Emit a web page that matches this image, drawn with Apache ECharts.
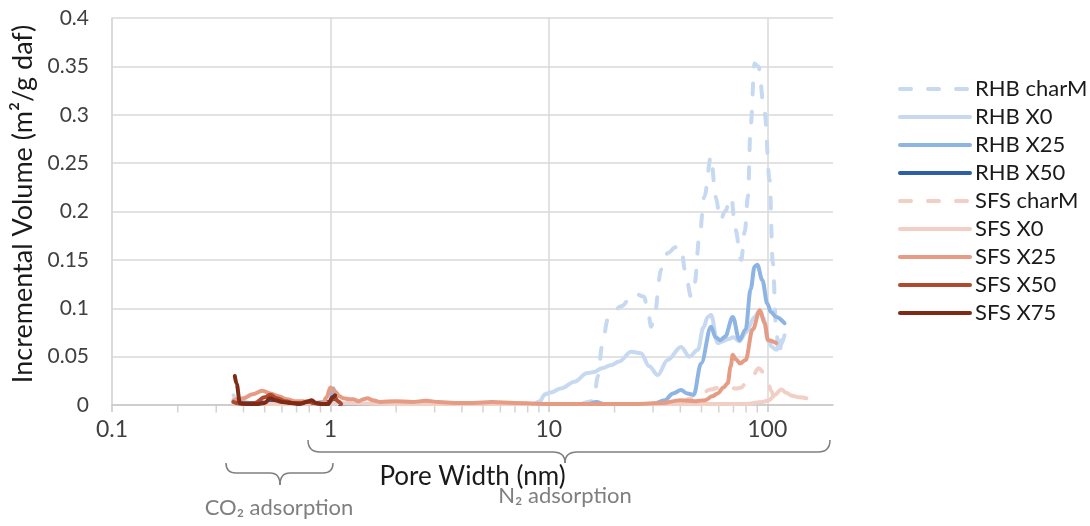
<!DOCTYPE html>
<html>
<head>
<meta charset="utf-8">
<script src="https://cdn.jsdelivr.net/npm/echarts@6.0.0/dist/echarts.min.js"></script>
<style>
  html, body { margin: 0; padding: 0; background: #ffffff; }
  #chart { width: 1090px; height: 526px; }
</style>
</head>
<body>
<div id="chart"></div>
<script>
// pore size distribution, RHB vs SFS chars
var FONT = 'Lato';

var seriesNames = ['RHB charM', 'RHB X0', 'RHB X25', 'RHB X50', 'SFS charM', 'SFS X0', 'SFS X25', 'SFS X50', 'SFS X75'];
var xTickLabels = [0.1, 1, 10, 100];
var minorTickX = [0.2, 0.3, 0.4, 0.5, 0.6, 0.7, 0.8, 0.9, 2, 3, 4, 5, 6, 7, 8, 9, 20, 30, 40, 50, 60, 70, 80, 90];

// pore width (nm) / incremental volume
var rhbCharMx = [14, 16, 16.8, 17.5, 18.6, 20, 21.4, 24.6, 27.3, 28.5, 29.4, 30.3, 32.7, 35, 38, 40.3, 42, 44.8, 46.5, 48.9, 51.5, 55.3, 58, 61.1, 64, 68.4, 71.5, 76, 79, 81.5, 84, 87.5, 91, 97.3, 102.5, 106, 110, 113, 116];
var rhbCharMy = [0.001, 0.004, 0.03, 0.06, 0.088, 0.098, 0.102, 0.1155, 0.112, 0.095, 0.081, 0.09, 0.14, 0.157, 0.163, 0.164, 0.14, 0.112, 0.126, 0.174, 0.215, 0.257, 0.215, 0.191, 0.2, 0.215, 0.181, 0.15, 0.18, 0.215, 0.29, 0.353, 0.35, 0.302, 0.233, 0.147, 0.078, 0.05, 0.067];

var rhbX0x = [0.36, 0.38, 0.42, 0.5, 0.6, 0.8, 1.0, 1.5, 2, 3, 5, 7, 8.5, 9.1, 9.6, 10.2, 11.35, 13.1, 15, 16.1, 17.5, 19.2, 21, 23.8, 26.4, 28.8, 31.5, 35, 40.3, 44, 48.1, 51, 53.4, 55.3, 59.3, 63, 66, 70, 74.6, 80, 87.5, 92, 96, 100.6, 105, 110, 115, 120];
var rhbX0y = [0.01, 0.003, 0.001, 0.001, 0.001, 0.001, 0.001, 0.001, 0.001, 0.001, 0.001, 0.001, 0.001, 0.004, 0.011, 0.013, 0.017, 0.024, 0.033, 0.034, 0.038, 0.041, 0.045, 0.055, 0.0534, 0.04, 0.031, 0.0465, 0.06, 0.05, 0.057, 0.08, 0.091, 0.093, 0.064, 0.066, 0.068, 0.07, 0.066, 0.075, 0.091, 0.097, 0.09, 0.067, 0.06, 0.057, 0.062, 0.072];

var rhbX25x = [0.36, 0.4, 0.5, 0.6, 0.7, 0.8, 0.9, 1.0, 1.03, 1.07, 1.15, 1.5, 2, 3, 5, 8, 12, 15, 16.5, 18, 25, 30, 34, 37, 40.3, 43, 46, 49.8, 55.3, 58, 61, 64.1, 69.5, 74.6, 79.6, 84, 87.5, 90, 95, 100, 104, 110, 120];
var rhbX25y = [0.004, 0.002, 0.002, 0.001, 0.001, 0.001, 0.002, 0.004, 0.017, 0.004, 0.001, 0.001, 0.001, 0.001, 0.001, 0.001, 0.001, 0.001, 0.003, 0.001, 0.001, 0.001, 0.005, 0.012, 0.0155, 0.012, 0.0103, 0.043, 0.081, 0.07, 0.067, 0.0706, 0.091, 0.067, 0.078, 0.12, 0.143, 0.145, 0.129, 0.105, 0.096, 0.091, 0.0845];

var rhbX50x = [0.36, 0.45, 0.55, 0.7, 0.85, 1.0, 1.05, 1.1];
var rhbX50y = [0.003, 0.002, 0.003, 0.002, 0.002, 0.003, 0.006, 0.001];

var sfsCharMx = [30, 40, 45, 49.8, 55, 59.3, 66, 72, 76, 80, 85, 91.5, 96, 100, 104, 108, 112];
var sfsCharMy = [0.001, 0.003, 0.007, 0.012, 0.016, 0.0176, 0.018, 0.017, 0.018, 0.023, 0.029, 0.038, 0.034, 0.027, 0.015, 0.006, 0.002];

var sfsX0x = [0.36, 0.5, 0.7, 1.0, 2, 5, 10, 20, 40, 60, 80, 95, 102, 108, 116, 122, 130, 140, 151];
var sfsX0y = [0.002, 0.001, 0.001, 0.002, 0.001, 0.001, 0.001, 0.001, 0.001, 0.001, 0.001, 0.003, 0.005, 0.0103, 0.016, 0.0127, 0.0095, 0.008, 0.007];

var sfsX25x = [0.36, 0.4, 0.44, 0.488, 0.53, 0.58, 0.63, 0.69, 0.75, 0.81, 0.87, 0.92, 0.96, 1.0, 1.05, 1.1, 1.15, 1.22, 1.27, 1.35, 1.42, 1.48, 1.56, 1.7, 1.98, 2.37, 2.74, 3.13, 3.7, 4.5, 5.5, 7, 10, 15, 25, 33, 40, 47, 52, 56, 59.3, 63, 65.9, 68, 69.5, 72, 75, 79.6, 85.7, 92.6, 97.3, 101, 110];
var sfsX25y = [0.005, 0.007, 0.011, 0.0148, 0.012, 0.009, 0.006, 0.004, 0.004, 0.003, 0.002, 0.001, 0.008, 0.018, 0.014, 0.009, 0.007, 0.006, 0.006, 0.004, 0.006, 0.007, 0.005, 0.003, 0.004, 0.003, 0.0045, 0.003, 0.002, 0.002, 0.003, 0.002, 0.001, 0.001, 0.001, 0.002, 0.005, 0.004, 0.005, 0.009, 0.012, 0.018, 0.0224, 0.04, 0.052, 0.047, 0.043, 0.0465, 0.078, 0.098, 0.0845, 0.067, 0.064];

var sfsX50x = [0.36, 0.4, 0.45, 0.5, 0.53, 0.57, 0.62, 0.68, 0.74, 0.79, 0.84, 0.9, 0.96, 1.0, 1.04, 1.08, 1.12];
var sfsX50y = [0.003, 0.001, 0.002, 0.008, 0.0105, 0.007, 0.004, 0.002, 0.002, 0.004, 0.002, 0.001, 0.001, 0.004, 0.009, 0.004, 0.001];

var sfsX75x = [0.365, 0.372, 0.385, 0.42, 0.46, 0.5, 0.53, 0.56, 0.6, 0.66, 0.72, 0.78, 0.82, 0.86, 0.92, 0.98, 1.02, 1.05];
var sfsX75y = [0.03, 0.022, 0.002, 0.001, 0.001, 0.002, 0.007, 0.005, 0.003, 0.002, 0.001, 0.003, 0.005, 0.002, 0.001, 0.001, 0.008, 0.01];

var colors = ['#c6d9f0', '#c6d9f0', '#8db4e2', '#2e5ea6', '#f2cfc4', '#f2cfc4', '#e69c84', '#b04a2e', '#7f2a16'];
var dashed = [true, false, false, false, true, false, false, false, false];

var allX = [rhbCharMx, rhbX0x, rhbX25x, rhbX50x, sfsCharMx, sfsX0x, sfsX25x, sfsX50x, sfsX75x];
var allY = [rhbCharMy, rhbX0y, rhbX25y, rhbX50y, sfsCharMy, sfsX0y, sfsX25y, sfsX50y, sfsX75y];

function pairs(xs, ys) {
  var out = [];
  for (var i = 0; i < xs.length; i++) {
    out.push([xs[i], ys[i]]);
  }
  return out;
}

// curly brace (opening downwards) built from lines + quadratic curves
function brace(x1, x2, xm, yTop, yMid, yTip) {
  var st = { stroke: '#7f7f7f', lineWidth: 1.5, fill: null };
  var r = yMid - yTop;
  return [
    { type: 'bezierCurve', shape: { x1: x1, y1: yTop, x2: x1 + r, y2: yMid, cpx1: x1, cpy1: yMid }, style: st },
    { type: 'line', shape: { x1: x1 + r, y1: yMid, x2: xm - r, y2: yMid }, style: st },
    { type: 'bezierCurve', shape: { x1: xm - r, y1: yMid, x2: xm, y2: yTip, cpx1: xm, cpy1: yMid }, style: st },
    { type: 'bezierCurve', shape: { x1: xm, y1: yTip, x2: xm + r, y2: yMid, cpx1: xm, cpy1: yMid }, style: st },
    { type: 'line', shape: { x1: xm + r, y1: yMid, x2: x2 - r, y2: yMid }, style: st },
    { type: 'bezierCurve', shape: { x1: x2 - r, y1: yMid, x2: x2, y2: yTop, cpx1: x2, cpy1: yMid }, style: st }
  ];
}

var chart = echarts.init(document.getElementById('chart'), null, { renderer: 'canvas' });

var series = [];
for (var i = 0; i < seriesNames.length; i++) {
  series.push({
    name: seriesNames[i],
    type: 'line',
    data: pairs(allX[i], allY[i]),
    smooth: 0.35,
    smoothMonotone: 'x',
    showSymbol: false,
    symbol: 'none',
    color: colors[i],
    lineStyle: {
      color: colors[i],
      width: 4,
      type: dashed[i] ? [11, 17] : 'solid',
      cap: 'round',
      join: 'round'
    },
    animation: false
  });
}

// minor ticks of the log axis (2..9 in every decade)
series.push({
  name: 'minor',
  type: 'scatter',
  data: minorTickX.map(function (v) { return [v, 0]; }),
  symbol: 'rect',
  symbolSize: [1.5, 7],
  symbolOffset: [0, 4],
  itemStyle: { color: '#c8c8c8' },
  silent: true,
  clip: false,
  z: 1,
  animation: false
});

var graphics = brace(308, 830, 565, 440, 452, 463)
  .concat(brace(226, 333, 280, 463, 473, 485))
  .concat([
    {
      type: 'text',
      x: 279,
      y: 508,
      style: { text: 'CO₂ adsorption', fontFamily: FONT, fontSize: 22, fill: '#7f7f7f', align: 'center', verticalAlign: 'middle' }
    },
    {
      type: 'text',
      x: 565,
      y: 496,
      style: { text: 'N₂ adsorption', fontFamily: FONT, fontSize: 22, fill: '#7f7f7f', align: 'center', verticalAlign: 'middle' }
    }
  ]);

var option = {
  backgroundColor: '#ffffff',
  animation: false,
  textStyle: { fontFamily: FONT },
  grid: {
    left: 112,
    right: 257,
    top: 18,
    bottom: 121
  },
  legend: {
    data: seriesNames,
    orient: 'vertical',
    left: 898,
    top: 78,
    itemWidth: 70,
    itemHeight: 20,
    itemGap: 6,
    padding: 0,
    itemStyle: { opacity: 0 },
    lineStyle: { width: 4 },
    textStyle: { fontFamily: FONT, fontSize: 22, color: '#1a1a1a' }
  },
  xAxis: {
    type: 'log',
    logBase: 10,
    min: 0.1,
    max: 200,
    name: 'Pore Width (nm)',
    nameLocation: 'middle',
    nameGap: 59,
    nameTextStyle: { fontFamily: FONT, fontSize: 26, color: '#1a1a1a' },
    axisLine: { show: true, lineStyle: { color: '#c8c8c8', width: 1.5 } },
    axisTick: { show: true, length: 7, lineStyle: { color: '#c8c8c8', width: 1.5 } },
    axisLabel: {
      fontFamily: FONT,
      fontSize: 23,
      color: '#404040',
      margin: 13,
      showMaxLabel: false,
      formatter: function (v) {
        for (var k = 0; k < xTickLabels.length; k++) {
          if (Math.abs(v - xTickLabels[k]) < 1e-9 * xTickLabels[k]) return String(xTickLabels[k]);
        }
        return '';
      }
    },
    splitLine: { show: true, showMaxLine: false, lineStyle: { color: '#d9d9d9', width: 1.5 } }
  },
  yAxis: {
    type: 'value',
    min: 0,
    max: 0.4,
    interval: 0.05,
    name: 'Incremental Volume (m²/g daf)',
    nameLocation: 'middle',
    nameGap: 73,
    nameTextStyle: { fontFamily: FONT, fontSize: 27, color: '#1a1a1a', padding: [0, 0, 0, 15] },
    axisLine: { show: true, lineStyle: { color: '#d9d9d9', width: 1.5 } },
    axisTick: { show: false },
    axisLabel: { fontFamily: FONT, fontSize: 21, color: '#404040', margin: 23 },
    splitLine: { show: true, lineStyle: { color: '#d9d9d9', width: 1.5 } }
  },
  graphic: graphics,
  series: series
};

chart.setOption(option);
window.addEventListener('resize', function () {
  chart.resize();
});
</script>
</body>
</html>
